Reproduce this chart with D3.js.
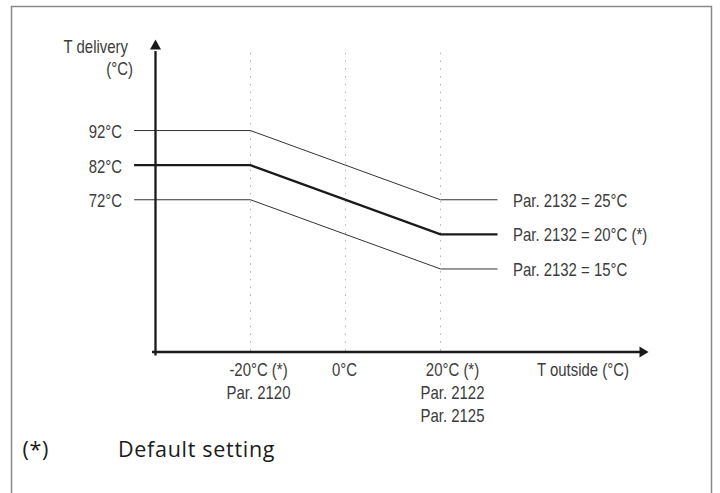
<!DOCTYPE html>
<html>
<head>
<meta charset="utf-8">
<script src="https://cdn.jsdelivr.net/npm/d3@7"></script>
<style>
  body { margin: 0; background: #fff; }
  svg { display: block; }
  .lbl { font-family: "Liberation Sans", Arial, sans-serif; font-size: 18px; fill: #3c3c3c; }
  .note { font-family: "Open Sans", sans-serif; font-size: 21.5px; fill: #1a1a1a; letter-spacing: 0.7px; }
</style>
</head>
<body>
<script>
// outside temperature ticks and their labels (multi line)
var outsideTicks = [-20, 0, 20];
var outsideLabels = [["-20°C (*)", "Par. 2120"], ["0°C"], ["20°C (*)", "Par. 2122", "Par. 2125"]];

// delivery temperature ticks on the left
var deliveryTicks = [92, 82, 72];

// the three curves: delivery temp at -20°C and at 20°C outside
var curveNames = ["Par. 2132 = 25°C", "Par. 2132 = 20°C (*)", "Par. 2132 = 15°C"];
var curveHigh = [92, 82, 72];
var curveLow = [72, 62, 52];
var curveBold = [false, true, false];

var width = 720,
    height = 493,
    squeeze = 0.83;   // fake a condensed face

var x_scale = d3.scaleLinear()
    .domain([-40, 64])
    .range([155.5, 649.5]);

var y_scale = d3.scaleLinear()
    .domain([28, 118])
    .range([352, 40.6]);

var svg = d3.select("body")
  .append("svg")
    .attr("width", width)
    .attr("height", height);

function label(x, y, txt, anchor) {
  return svg.append("text")
      .attr("class", "lbl")
      .attr("text-anchor", anchor || "start")
      .attr("transform", "translate(" + x + "," + y + ") scale(" + squeeze + ",1)")
      .text(txt);
}

// frame (no bottom edge visible)
svg.append("path")
    .attr("d", "M11.5,493 V6.5 H711.5 V493")
    .attr("fill", "none")
    .attr("stroke", "#8a8a8a")
    .attr("stroke-width", 1.5);

// dotted verticals
svg.selectAll(".grid")
  .data(outsideTicks)
  .enter()
  .append("line")
    .attr("class", "grid")
    .attr("x1", function(d){return x_scale(d)})
    .attr("x2", function(d){return x_scale(d)})
    .attr("y1", y_scale(114.5))
    .attr("y2", y_scale(28))
    .attr("stroke", "#b0b0b0")
    .attr("stroke-width", 1)
    .attr("stroke-dasharray", "1.5,6.3");

// curves
var line = d3.line()
    .x(function(d){return x_scale(d[0])})
    .y(function(d){return y_scale(d[1])});

var curves = curveNames.map(function(name, i) {
  return {
    name: name,
    bold: curveBold[i],
    pts: [[-44.5, curveHigh[i]], [-20, curveHigh[i]], [20, curveLow[i]], [32, curveLow[i]]]
  };
});

svg.selectAll(".curve")
  .data(curves)
  .enter()
  .append("path")
    .attr("class", "curve")
    .attr("d", function(d){return line(d.pts)})
    .attr("fill", "none")
    .attr("stroke", function(d){return d.bold ? "#1a1a1a" : "#333"})
    .attr("stroke-width", function(d){return d.bold ? 2.4 : 1});

curves.forEach(function(d) {
  label(x_scale(32) + 15.5, y_scale(d.pts[3][1]) + 6.8, d.name);
});

// left tick labels via axis
var y_axis = d3.axisLeft(y_scale)
    .tickValues(deliveryTicks)
    .tickSize(0)
    .tickPadding(12)
    .tickFormat(function(d){return d + "°C"});

var yg = svg.append("g")
    .attr("transform", "translate(" + x_scale(-44.5) + ",0)")
    .call(y_axis);
yg.select(".domain").remove();
yg.selectAll("text")
    .attr("class", "lbl")
    .attr("font-family", null)
    .attr("font-size", null)
    .attr("fill", null)
    .attr("x", null)
    .attr("dy", null)
    .attr("transform", "translate(-12,7) scale(" + squeeze + ",1)");

// axes with arrows
var ax = svg.append("g").attr("stroke", "#1a1a1a").attr("stroke-width", 2.3);
ax.append("line")
    .attr("x1", x_scale(-40)).attr("x2", x_scale(-40))
    .attr("y1", y_scale(28) + 3.5).attr("y2", y_scale(115));
ax.append("line")
    .attr("x1", x_scale(-40) - 3.5).attr("x2", x_scale(62))
    .attr("y1", y_scale(28)).attr("y2", y_scale(28));

svg.append("path")
    .attr("d", "M" + x_scale(-40) + "," + (y_scale(118) - 1) + " l-5.5,10 h11 z")
    .attr("fill", "#1a1a1a");
svg.append("path")
    .attr("d", "M" + (x_scale(64) - 1) + "," + y_scale(28) + " l-9,-5.5 v11 z")
    .attr("fill", "#1a1a1a");

// bottom labels
var nudge = [8, -1, 12];
outsideTicks.forEach(function(d, i) {
  var t = label(x_scale(d) + nudge[i], 376, null, "middle");
  t.selectAll("tspan")
    .data(outsideLabels[i])
    .enter()
    .append("tspan")
      .attr("x", 0)
      .attr("dy", function(s, j){return j ? 23 : 0})
      .text(function(s){return s});
});

label(583, 376, "T outside (°C)", "middle");

// y axis title
label(128, 53, "T delivery", "end");
label(133, 75, "(°C)", "end");

// footnote
svg.append("text")
    .attr("class", "note")
    .attr("x", 22.5)
    .attr("y", 457)
    .text("(*)");
svg.append("text")
    .attr("class", "note")
    .attr("x", 118)
    .attr("y", 457)
    .text("Default setting");
</script>
</body>
</html>
